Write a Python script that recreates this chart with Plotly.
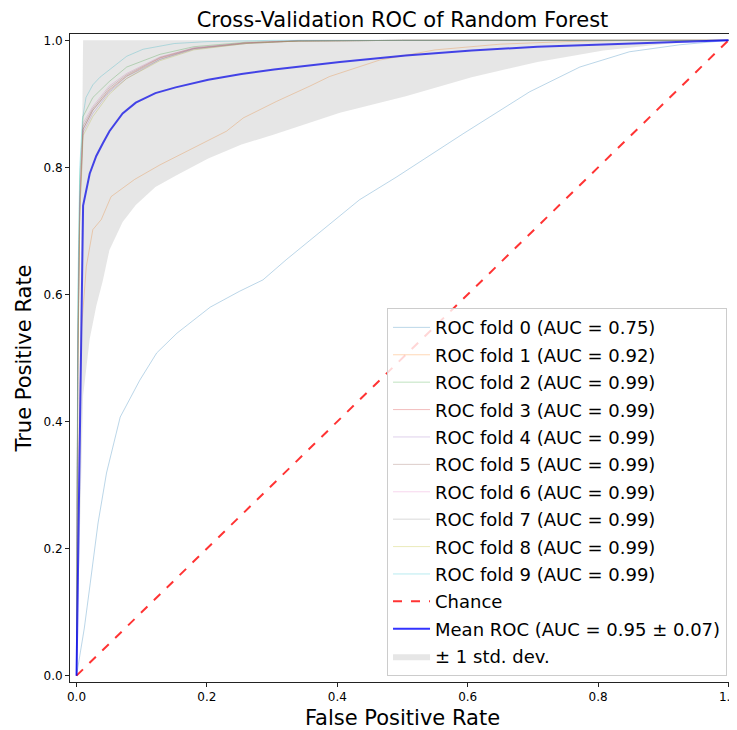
import plotly.graph_objects as go

# ---------------- data ----------------
fold_names = ["ROC fold 0 (AUC = 0.75)", "ROC fold 1 (AUC = 0.92)", "ROC fold 2 (AUC = 0.99)",
              "ROC fold 3 (AUC = 0.99)", "ROC fold 4 (AUC = 0.99)", "ROC fold 5 (AUC = 0.99)",
              "ROC fold 6 (AUC = 0.99)", "ROC fold 7 (AUC = 0.99)", "ROC fold 8 (AUC = 0.99)",
              "ROC fold 9 (AUC = 0.99)"]
fold_colors = ["#1f77b4", "#ff7f0e", "#2ca02c", "#d62728", "#9467bd",
               "#8c564b", "#e377c2", "#7f7f7f", "#bcbd22", "#17becf"]

fpr0 = [0, 0.005, 0.012, 0.021, 0.033, 0.046, 0.067, 0.097, 0.123, 0.154, 0.205, 0.25, 0.286,
        0.322, 0.378, 0.434, 0.491, 0.593, 0.695, 0.772, 0.848, 0.925, 1.0]
tpr0 = [0, 0.03, 0.075, 0.145, 0.24, 0.319, 0.407, 0.465, 0.508, 0.539, 0.580, 0.605, 0.623,
        0.655, 0.702, 0.749, 0.785, 0.853, 0.919, 0.958, 0.982, 0.993, 1.0]

fpr1 = [0, 0.003, 0.008, 0.015, 0.025, 0.038, 0.053, 0.089, 0.128, 0.179, 0.230, 0.256,
        0.307, 0.358, 0.388, 0.465, 0.55, 0.65, 0.75, 0.85, 1.0]
tpr1 = [0, 0.35, 0.55, 0.644, 0.702, 0.718, 0.754, 0.781, 0.804, 0.831, 0.857, 0.878,
        0.904, 0.928, 0.943, 0.969, 0.985, 0.994, 0.998, 1.0, 1.0]

fpr_hi = [0, 0.002, 0.005, 0.01, 0.025, 0.05, 0.077, 0.128, 0.18, 0.26, 0.34, 0.5, 1.0]
tpr2 = [0, 0.55, 0.78, 0.88, 0.91, 0.935, 0.958, 0.978, 0.99, 0.997, 0.999, 1.0, 1.0]
tpr3 = [0, 0.50, 0.74, 0.86, 0.89, 0.922, 0.944, 0.972, 0.987, 0.996, 0.999, 1.0, 1.0]
tpr4 = [0, 0.48, 0.72, 0.855, 0.885, 0.918, 0.940, 0.970, 0.986, 0.995, 0.999, 1.0, 1.0]
tpr5 = [0, 0.50, 0.75, 0.865, 0.893, 0.925, 0.946, 0.973, 0.988, 0.996, 0.999, 1.0, 1.0]
tpr6 = [0, 0.52, 0.76, 0.87, 0.896, 0.928, 0.948, 0.974, 0.988, 0.996, 1.0, 1.0, 1.0]
tpr7 = [0, 0.49, 0.73, 0.86, 0.89, 0.920, 0.943, 0.970, 0.987, 0.995, 0.999, 1.0, 1.0]
tpr8 = [0, 0.47, 0.71, 0.85, 0.88, 0.915, 0.940, 0.968, 0.985, 0.995, 0.999, 1.0, 1.0]
fpr9 = [0, 0.002, 0.005, 0.009, 0.0145, 0.025, 0.036, 0.055, 0.077, 0.102, 0.15, 0.2, 0.3, 0.45, 1.0]
tpr9 = [0, 0.6, 0.8, 0.875, 0.91, 0.93, 0.942, 0.958, 0.975, 0.986, 0.995, 0.998, 1.0, 1.0, 1.0]

mean_fpr = [0, 0.0101, 0.0202, 0.0303, 0.0404, 0.0505, 0.0707, 0.0909, 0.121, 0.152,
            0.202, 0.253, 0.303, 0.404, 0.505, 0.606, 0.707, 0.808, 0.909, 1.0]
mean_tpr = [0, 0.74, 0.79, 0.818, 0.838, 0.857, 0.885, 0.902, 0.917, 0.926,
            0.938, 0.947, 0.954, 0.966, 0.976, 0.984, 0.990, 0.994, 0.997, 1.0]
std_tpr = [0, 0.30, 0.26, 0.236, 0.216, 0.187, 0.171, 0.161, 0.148, 0.139,
           0.124, 0.111, 0.102, 0.080, 0.064, 0.042, 0.024, 0.010, 0.002, 0.0]

mean_name = "Mean ROC (AUC = 0.95 \u00b1 0.07)"
std_name = "\u00b1 1 std. dev."
ticks = [0.0, 0.2, 0.4, 0.6, 0.8, 1.0]
tick_text = ["0.0", "0.2", "0.4", "0.6", "0.8", "1.0"]


def rgba(hex_color, a):
    h = hex_color.lstrip("#")
    return "rgba(%d,%d,%d,%s)" % (int(h[0:2], 16), int(h[2:4], 16), int(h[4:6], 16), a)


fold_x = [fpr0, fpr1, fpr_hi, fpr_hi, fpr_hi, fpr_hi, fpr_hi, fpr_hi, fpr_hi, fpr9]
fold_y = [tpr0, tpr1, tpr2, tpr3, tpr4, tpr5, tpr6, tpr7, tpr8, tpr9]

fig = go.Figure()
for i in range(10):
    fig.add_trace(go.Scatter(x=fold_x[i], y=fold_y[i], mode="lines", name=fold_names[i],
                             legendgroup="g%d" % i,
                             line=dict(color=rgba(fold_colors[i], 0.3), width=1)))

fig.add_trace(go.Scatter(x=[0, 1], y=[0, 1], mode="lines", name="Chance", legendgroup="chance",
                         line=dict(color="rgba(255,0,0,0.8)", width=2, dash="dash")))

fig.add_trace(go.Scatter(x=mean_fpr, y=mean_tpr, mode="lines", name=mean_name, legendgroup="mean",
                         line=dict(color="rgba(0,0,255,0.8)", width=2)))

lower = [max(m - s, 0) for m, s in zip(mean_tpr, std_tpr)]
upper = [min(m + s, 1) for m, s in zip(mean_tpr, std_tpr)]
fig.add_trace(go.Scatter(x=mean_fpr, y=lower, mode="lines", line=dict(width=0, color="rgba(0,0,0,0)"),
                         showlegend=False, hoverinfo="skip", legendgroup="std"))
fig.add_trace(go.Scatter(x=mean_fpr, y=upper, mode="lines", name=std_name, legendgroup="std",
                         fill="tonexty", fillcolor="rgba(128,128,128,0.2)",
                         line=dict(width=0, color="rgba(128,128,128,0.2)")))

# the page body adds an 8px offset; the figure is sized so the plot sits where the reference has it
W, H = 729, 722
font_family = "DejaVu Sans"
fig.update_layout(
    width=W, height=H,
    margin=dict(l=62, r=2, t=26, b=48, autoexpand=False),
    paper_bgcolor="white", plot_bgcolor="white",
    font=dict(family=font_family, color="black"),
    title=dict(text="Cross-Validation ROC of Random Forest", x=(62 + 727) / 2 / W, xanchor="center",
               y=1 - 12 / H, yanchor="middle", font=dict(size=21, family=font_family)),
    legend=dict(x=0.988, xanchor="right", y=0.009, yanchor="bottom",
                bgcolor="rgba(255,255,255,0.8)", bordercolor="#cccccc", borderwidth=1,
                font=dict(size=18, family=font_family), tracegroupgap=1, itemwidth=37),
    showlegend=True,
)
axis_common = dict(range=[-0.01, 1.01], tickvals=ticks, ticktext=tick_text, showgrid=False,
                   zeroline=False, showline=True, linecolor="#222222", linewidth=1, mirror=True,
                   ticks="outside", ticklen=4, tickcolor="#222222", automargin=False,
                   ticklabeloverflow="allow",
                   tickfont=dict(size=12, family=font_family, color="black"))
fig.update_xaxes(**axis_common, title=dict(text="False Positive Rate", font=dict(size=21), standoff=6))
fig.update_yaxes(**axis_common, title=dict(text="True Positive Rate", font=dict(size=21), standoff=6))

fig.write_html("out.html")
